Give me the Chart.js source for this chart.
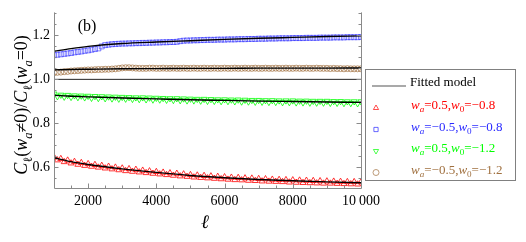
<!DOCTYPE html>
<html>
<head>
<meta charset="utf-8">
<script src="https://cdn.jsdelivr.net/npm/chart.js@4.4.1/dist/chart.umd.min.js"></script>
<style>
  html, body { margin: 0; padding: 0; background: #fff; }
  canvas { display: block; }
</style>
</head>
<body>
<canvas id="grafica" width="526" height="242"></canvas>
<script>
// Valores de ell (eje x)
const ell = [
  1000, 1100, 1200, 1300, 1400, 1500, 1600, 1700, 1800, 1900,
  2000, 2100, 2200, 2300, 2400, 2500, 2600, 2700, 2800, 2900,
  3000, 3100, 3200, 3300, 3400, 3500, 3600, 3700, 3800, 3900,
  4000, 4100, 4200, 4300, 4400, 4500, 4600, 4700, 4800, 4900,
  5000, 5100, 5200, 5300, 5400, 5500, 5600, 5700, 5800, 5900,
  6000, 6100, 6200, 6300, 6400, 6500, 6600, 6700, 6800, 6900,
  7000, 7100, 7200, 7300, 7400, 7500, 7600, 7700, 7800, 7900,
  8000, 8100, 8200, 8300, 8400, 8500, 8600, 8700, 8800, 8900,
  9000, 9100, 9200, 9300, 9400, 9500, 9600, 9700, 9800, 9900,
  10000
];

// wa=0.5, w0=-0.8 (triángulos rojos)
const rojo = [
  0.646, 0.632, 0.638, 0.624, 0.631, 0.618, 0.625, 0.612, 0.620, 0.607,
  0.615, 0.603, 0.611, 0.599, 0.607, 0.595, 0.603, 0.591, 0.599, 0.587,
  0.595, 0.583, 0.592, 0.580, 0.589, 0.577, 0.585, 0.574, 0.582, 0.571,
  0.579, 0.568, 0.576, 0.565, 0.573, 0.562, 0.571, 0.559, 0.568, 0.557,
  0.565, 0.554, 0.563, 0.552, 0.561, 0.550, 0.559, 0.548, 0.557, 0.546,
  0.555, 0.544, 0.553, 0.542, 0.552, 0.541, 0.550, 0.539, 0.549, 0.538,
  0.547, 0.536, 0.546, 0.535, 0.544, 0.534, 0.543, 0.533, 0.542, 0.531,
  0.541, 0.530, 0.540, 0.529, 0.539, 0.528, 0.538, 0.527, 0.537, 0.526,
  0.536, 0.526, 0.535, 0.525, 0.534, 0.524, 0.533, 0.523, 0.533, 0.522,
  0.532
];

// wa=-0.5, w0=-0.8 (cuadrados azules)
const azul = [
  1.110, 1.112, 1.114, 1.116, 1.118, 1.120, 1.123, 1.125, 1.127, 1.130,
  1.132, 1.135, 1.138, 1.141, 1.150, 1.156, 1.158, 1.160, 1.161, 1.162,
  1.163, 1.163, 1.164, 1.164, 1.165, 1.165, 1.166, 1.166, 1.167, 1.167,
  1.168, 1.168, 1.169, 1.169, 1.170, 1.170, 1.171, 1.174, 1.176, 1.177,
  1.177, 1.178, 1.178, 1.179, 1.179, 1.180, 1.180, 1.180, 1.181, 1.181,
  1.181, 1.182, 1.182, 1.182, 1.183, 1.183, 1.183, 1.184, 1.184, 1.184,
  1.185, 1.185, 1.185, 1.186, 1.186, 1.186, 1.187, 1.187, 1.187, 1.187,
  1.188, 1.188, 1.188, 1.188, 1.189, 1.189, 1.189, 1.189, 1.190, 1.190,
  1.190, 1.190, 1.191, 1.191, 1.191, 1.191, 1.192, 1.192, 1.192, 1.192,
  1.193
];

// wa=0.5, w0=-1.2 (triángulos invertidos verdes)
const verde = [
  0.934, 0.922, 0.929, 0.920, 0.928, 0.919, 0.926, 0.918, 0.925, 0.917,
  0.924, 0.915, 0.923, 0.914, 0.922, 0.913, 0.921, 0.912, 0.920, 0.911,
  0.919, 0.911, 0.918, 0.910, 0.917, 0.909, 0.917, 0.908, 0.916, 0.907,
  0.915, 0.907, 0.914, 0.906, 0.913, 0.905, 0.913, 0.904, 0.912, 0.903,
  0.911, 0.903, 0.910, 0.902, 0.910, 0.901, 0.909, 0.901, 0.908, 0.900,
  0.908, 0.900, 0.907, 0.899, 0.907, 0.898, 0.906, 0.898, 0.905, 0.897,
  0.905, 0.897, 0.904, 0.896, 0.904, 0.896, 0.903, 0.895, 0.903, 0.895,
  0.903, 0.894, 0.902, 0.894, 0.902, 0.893, 0.901, 0.893, 0.901, 0.893,
  0.901, 0.892, 0.900, 0.892, 0.900, 0.891, 0.899, 0.891, 0.899, 0.890,
  0.899
];

// wa=-0.5, w0=-1.2 (círculos marrones)
const marron = [
  1.030, 1.032, 1.033, 1.035, 1.036, 1.038, 1.039, 1.040, 1.041, 1.042,
  1.043, 1.043, 1.044, 1.045, 1.045, 1.046, 1.046, 1.047, 1.048, 1.050,
  1.052, 1.053, 1.053, 1.052, 1.051, 1.050, 1.050, 1.050, 1.051, 1.051,
  1.050, 1.050, 1.051, 1.050, 1.050, 1.051, 1.050, 1.050, 1.051, 1.050,
  1.050, 1.051, 1.050, 1.050, 1.051, 1.050, 1.050, 1.051, 1.050, 1.050,
  1.051, 1.050, 1.050, 1.051, 1.050, 1.050, 1.051, 1.050, 1.050, 1.051,
  1.050, 1.050, 1.051, 1.050, 1.050, 1.051, 1.050, 1.050, 1.051, 1.050,
  1.050, 1.051, 1.050, 1.050, 1.051, 1.050, 1.050, 1.051, 1.050, 1.050,
  1.050, 1.049, 1.050, 1.049, 1.049, 1.048, 1.049, 1.048, 1.048, 1.048,
  1.048
];

// Modelo ajustado
const ellAjuste = [1000, 1500, 2000, 3000, 4000, 5000, 6000, 7000, 8000, 9000, 10000];
const rojoAjuste = [0.643, 0.625, 0.612, 0.592, 0.576, 0.562, 0.552, 0.544, 0.538, 0.533, 0.529];
const azulAjuste = [1.128, 1.140, 1.150, 1.163, 1.170, 1.176, 1.182, 1.187, 1.191, 1.195, 1.198];
const verdeAjuste = [0.927, 0.923, 0.920, 0.915, 0.911, 0.907, 0.904, 0.901, 0.899, 0.897, 0.895];
const marronAjuste = [1.043, 1.045, 1.046, 1.048, 1.049, 1.050, 1.050, 1.051, 1.051, 1.051, 1.052];

// Línea de referencia en 1
const ellRef = [1000, 10000];
const valRef = [1.0, 1.0];

// Marcas de los ejes
const xTicks = [2000, 4000, 6000, 8000, 10000];
const xTickLabels = ['2000', '4000', '6000', '8000', '10\u2009000'];
const xMenores = [1000, 1500, 2000, 2500, 3000, 3500, 4000, 4500, 5000, 5500, 6000, 6500, 7000, 7500, 8000, 8500, 9000, 9500, 10000];
const yTicks = [0.6, 0.8, 1.0, 1.2];
const yTickLabels = ['0.6', '0.8', '1.0', '1.2'];
const yMenores = [0.55, 0.6, 0.65, 0.7, 0.75, 0.8, 0.85, 0.9, 0.95, 1.0, 1.05, 1.1, 1.15, 1.2, 1.25, 1.3];

const FUENTE = "'Liberation Serif', 'Times New Roman', serif";
const ROJO = '#ff0000', AZUL = '#2a2aff', VERDE = '#00ff00', MARRON = '#a0703f';

function pares(xs, ys) {
    return xs.map((x, i) => ({ x: x, y: ys[i] }));
}

// Dibuja texto con cursiva y subíndices: partes = [[texto, estilo]], estilo 'i' cursiva, 's' subíndice
function textoRico(ctx, partes, x, y, tam, alinear) {
    const fuente = p => (p[1].includes('i') ? 'italic ' : '') + (p[1].includes('s') ? tam * 0.7 : tam) + 'px ' + FUENTE;
    let ancho = 0;
    partes.forEach(p => { ctx.font = fuente(p); ancho += ctx.measureText(p[0]).width; });
    let xi = alinear === 'center' ? x - ancho / 2 : x;
    ctx.textBaseline = 'alphabetic';
    ctx.textAlign = 'left';
    partes.forEach(p => {
        ctx.font = fuente(p);
        const dy = p[1].includes('s') ? tam * 0.25 : 0;
        ctx.fillText(p[0], xi, y + dy);
        xi += ctx.measureText(p[0]).width;
    });
    return ancho;
}

const etiquetaY = [['C', 'i'], ['\u2113', 's'], ['(', ''], ['w', 'i'], ['a', 'is'], ['\u22600)/', ''],
                   ['C', 'i'], ['\u2113', 's'], ['(', ''], ['w', 'i'], ['a', 'is'], ['=0)', '']];

const leyenda = [
    { color: ROJO, estilo: 'triangle', rot: 0, partes: [['w', 'i'], ['a', 'is'], ['=0.5,', ''], ['w', 'i'], ['0', 's'], ['=\u22120.8', '']] },
    { color: AZUL, estilo: 'rect', rot: 0, partes: [['w', 'i'], ['a', 'is'], ['=\u22120.5,', ''], ['w', 'i'], ['0', 's'], ['=\u22120.8', '']] },
    { color: VERDE, estilo: 'triangle', rot: 180, partes: [['w', 'i'], ['a', 'is'], ['=0.5,', ''], ['w', 'i'], ['0', 's'], ['=\u22121.2', '']] },
    { color: MARRON, estilo: 'circle', rot: 0, partes: [['w', 'i'], ['a', 'is'], ['=\u22120.5,', ''], ['w', 'i'], ['0', 's'], ['=\u22121.2', '']] }
];

// Marco, marcas interiores, textos y leyenda
const marcoPlugin = {
    id: 'marco',
    afterDraw(chart) {
        const ctx = chart.ctx;
        const a = chart.chartArea;
        const sx = chart.scales.x, sy = chart.scales.y;
        ctx.save();
        ctx.strokeStyle = '#8a8a8a';
        ctx.lineWidth = 1;
        ctx.beginPath();
        ctx.moveTo(a.left + 0.5, a.top);
        ctx.lineTo(a.left + 0.5, a.bottom + 0.5);
        ctx.lineTo(a.right + 0.5, a.bottom + 0.5);
        ctx.lineTo(a.right + 0.5, a.top);
        xMenores.forEach(v => {
            const px = Math.round(sx.getPixelForValue(v)) + 0.5;
            const largo = xTicks.includes(v) ? 4.5 : 2.5;
            ctx.moveTo(px, a.bottom);
            ctx.lineTo(px, a.bottom - largo);
        });
        yMenores.forEach(v => {
            const py = Math.round(sy.getPixelForValue(v)) + 0.5;
            const largo = yTicks.includes(v) ? 4.5 : 2.5;
            ctx.moveTo(a.left, py);
            ctx.lineTo(a.left + largo, py);
            ctx.moveTo(a.right, py);
            ctx.lineTo(a.right - largo, py);
        });
        ctx.stroke();

        // Textos
        ctx.fillStyle = '#000';
        textoRico(ctx, [['(b)', '']], 87, 31, 16, 'center');
        textoRico(ctx, [['\u2113', 'i']], 205, 228, 19, 'center');
        ctx.save();
        ctx.translate(27, 105);
        ctx.rotate(-Math.PI / 2);
        textoRico(ctx, etiquetaY, 0, 0, 18, 'center');
        ctx.restore();

        // Leyenda
        ctx.strokeStyle = '#808080';
        ctx.strokeRect(365.5, 69.5, 150, 111);
        ctx.strokeStyle = '#555';
        ctx.lineWidth = 1.2;
        ctx.beginPath();
        ctx.moveTo(372, 86);
        ctx.lineTo(406, 86);
        ctx.stroke();
        ctx.fillStyle = '#000';
        textoRico(ctx, [['Fitted model', '']], 410, 86, 13, 'left');
        leyenda.forEach((item, i) => {
            const y = 108 + i * 21.5;
            ctx.strokeStyle = item.color;
            ctx.fillStyle = 'rgba(0,0,0,0)';
            ctx.lineWidth = 0.7;
            Chart.helpers.drawPoint(ctx, { pointStyle: item.estilo, radius: 3, rotation: item.rot, borderWidth: 0.7 }, 376, y);
            ctx.fillStyle = item.color;
            textoRico(ctx, item.partes, 411, y + 1, 13, 'left');
        });
        ctx.restore();
    }
};

function serieMarcas(datos, color, estilo, rot, radio, grosor) {
    return {
        data: pares(ell, datos),
        showLine: false,
        borderColor: color,
        backgroundColor: 'rgba(0,0,0,0)',
        pointStyle: estilo,
        pointRotation: rot,
        pointRadius: radio,
        pointBorderWidth: grosor,
        order: 2
    };
}

function serieAjuste(datos) {
    return {
        data: pares(ellAjuste, datos),
        borderColor: '#000',
        borderWidth: 1.4,
        pointRadius: 0,
        cubicInterpolationMode: 'monotone',
        fill: false,
        order: 1
    };
}

Chart.defaults.font.family = FUENTE;

new Chart(document.getElementById('grafica').getContext('2d'), {
    type: 'line',
    data: {
        datasets: [
            serieMarcas(rojo, ROJO, 'triangle', 0, 3.5, 0.8),
            serieMarcas(azul, AZUL, 'rect', 0, 3.5, 0.6),
            serieMarcas(verde, VERDE, 'triangle', 180, 3.5, 0.8),
            serieMarcas(marron, MARRON, 'circle', 0, 3, 0.7),
            serieAjuste(rojoAjuste),
            serieAjuste(azulAjuste),
            serieAjuste(verdeAjuste),
            serieAjuste(marronAjuste),
            { data: pares(ellRef, valRef), borderColor: '#222', borderWidth: 1, pointRadius: 0, order: 1 }
        ]
    },
    options: {
        responsive: false,
        devicePixelRatio: 1,
        animation: false,
        layout: { padding: { left: 0, right: 165, top: 0, bottom: 0 } },
        plugins: { legend: { display: false }, tooltip: { enabled: false } },
        scales: {
            x: {
                type: 'linear',
                min: 1000,
                max: 10000,
                grid: { display: false, drawTicks: false },
                border: { display: false },
                afterBuildTicks: s => { s.ticks = xTicks.map(v => ({ value: v })); },
                afterFit: s => { s.height = 54; },
                ticks: {
                    padding: 5,
                    color: '#000',
                    font: { size: 14 },
                    maxRotation: 0,
                    callback: (v) => xTickLabels[xTicks.indexOf(v)]
                }
            },
            y: {
                type: 'linear',
                min: 0.505,
                max: 1.305,
                grid: { display: false, drawTicks: false },
                border: { display: false },
                afterBuildTicks: s => { s.ticks = yTicks.map(v => ({ value: v })); },
                afterFit: s => { s.width = 54; },
                ticks: {
                    padding: 4,
                    color: '#000',
                    font: { size: 14 },
                    callback: (v) => yTickLabels[yTicks.indexOf(v)]
                }
            }
        }
    },
    plugins: [marcoPlugin]
});
</script>
</body>
</html>
